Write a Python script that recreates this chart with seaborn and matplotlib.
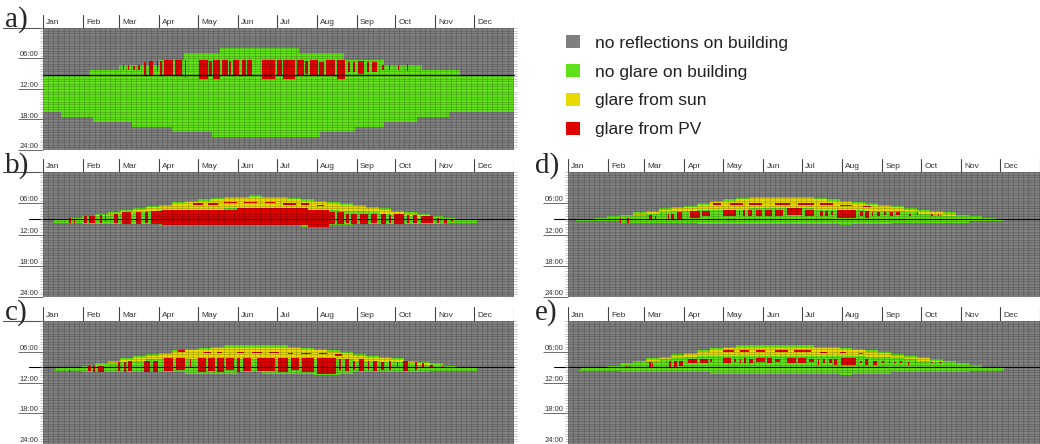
import numpy as np
import pandas as pd
import matplotlib
matplotlib.use("Agg")
import matplotlib.pyplot as plt
from matplotlib.colors import ListedColormap
from matplotlib.patches import Patch
import seaborn as sns

nan = np.nan

# ---------------- data ----------------
months = ["Jan", "Feb", "Mar", "Apr", "May", "Jun", "Jul", "Aug", "Sep", "Oct", "Nov", "Dec"]
month_start_day = [0, 31, 59, 90, 120, 151, 181, 212, 243, 273, 304, 334]
hour_labels = ["06:00", "12:00", "18:00", "24:00"]
legend_labels = ["no reflections on building", "no glare on building", "glare from sun", "glare from PV"]
state_colors = ["#7f7f7f", "#5fe01a", "#e6da00", "#e00000"]
ref_line_hour = {"a": 9.25, "b": 9.0, "c": 9.0, "d": 9.0, "e": 9.0}

# panel a: stepwise reflection period (start / end of sun on building)
a_top_days = [0, 36, 59, 90, 109, 137, 198, 233, 264, 294, 323]
a_top_hours = [9.25, 8.25, 7.25, 6.25, 5.0, 4.0, 5.0, 6.25, 7.25, 8.25, 9.25]
a_bot_days = [0, 14, 39, 69, 100, 131, 215, 242, 264, 290, 315]
a_bot_hours = [16.5, 17.5, 18.5, 19.5, 20.5, 21.5, 20.5, 19.5, 18.5, 17.5, 16.5]
a_red_bars = [(62, 63, 7.25, 8.25), (66, 67, 7.25, 8.25), (70, 71, 7.5, 8.25), (74, 75, 7.25, 8.25),
              (78, 80, 6.75, 9.25), (82, 85, 6.5, 9.25), (88, 89, 6.5, 8.5), (91, 92, 6.5, 9.25),
              (94, 101, 6.25, 9.25), (102, 108, 6.25, 9.25), (110, 111, 6.25, 9.75),
              (121, 128, 6.25, 10.0), (129, 131, 6.5, 9.5), (132, 137, 6.25, 10.0),
              (139, 143, 6.25, 9.25), (144, 146, 6.5, 9.5), (147, 152, 6.25, 9.25), (154, 157, 6.25, 9.25),
              (158, 162, 6.25, 9.5), (170, 180, 6.25, 10.0), (181, 185, 6.25, 9.5), (186, 195, 6.25, 10.0),
              (197, 202, 6.25, 9.25), (203, 205, 6.5, 9.0), (207, 213, 6.25, 9.5), (214, 218, 6.75, 9.25),
              (219, 226, 6.25, 9.5), (228, 234, 6.25, 10.0), (236, 238, 6.75, 8.75), (240, 242, 6.75, 8.75),
              (244, 249, 6.5, 9.0), (251, 253, 6.75, 8.75), (255, 259, 6.75, 8.75),
              (263, 264, 7.25, 8.25), (268, 269, 7.25, 8.25), (275, 276, 7.25, 8.25), (282, 283, 7.0, 8.5)]

# panels b-e: 10-day bins (bin k covers days 10k..10k+9)
b_span = (8, 336)
b_top = [9.25, 9.0, 8.75, 8.5, 8.0, 7.75, 7.25, 7.0, 6.5, 6.25, 5.75, 5.5, 5.25, 5.0, 4.75, 4.75, 4.5, 4.75, 4.75,
         5.0, 5.25, 5.5, 5.75, 6.0, 6.25, 6.75, 7.0, 7.5, 7.75, 8.0, 8.5, 8.75, 9.0, 9.25, nan, nan, nan]
b_bot = [9.75, 9.75, 9.75, 10.0, 10.0, 10.0, 10.0, 10.0, 10.0, 10.25, 10.25, 10.25, 10.25, 10.25, 10.25, 10.25,
         10.25, 10.25, 10.25, 10.25, 10.5, 10.5, 10.25, 10.25, 10.0, 10.0, 10.0, 10.0, 10.0, 10.0, 10.0, 9.75,
         9.75, 9.75, nan, nan, nan]
b_yel = [nan, nan, nan, nan, 8.5, 8.25, 8.0, 7.75, 7.5, 7.25, 7.25, 7.25, 7.25, 7.25, 7.0, 7.0, 7.0, 7.0, 7.0,
         7.0, 7.25, 7.25, 7.25, 7.5, 7.5, 7.75, 8.0, 8.25, 8.5, 8.75, nan, nan, nan, nan, nan, nan, nan]
b_red_bars = [(20, 22, 8.75, 9.75), (24, 25, 9.0, 9.75), (32, 34, 8.5, 9.75), (36, 40, 8.5, 9.75),
              (44, 46, 8.25, 9.75), (48, 49, 8.25, 9.5), (55, 58, 8.0, 9.75), (61, 68, 7.75, 10.0),
              (72, 76, 7.75, 10.0), (79, 81, 7.75, 9.75), (84, 92, 7.5, 10.0),
              (92, 150, 7.25, 10.25), (150, 205, 7.0, 10.25), (205, 222, 7.25, 10.5),
              (222, 226, 7.75, 10.0), (228, 233, 7.75, 10.0), (235, 237, 8.0, 9.75), (239, 243, 8.0, 10.0),
              (246, 252, 8.0, 10.0), (254, 259, 8.0, 9.75), (262, 266, 8.0, 10.0), (268, 270, 8.25, 9.75),
              (272, 280, 8.0, 10.0), (282, 284, 8.25, 9.75), (287, 290, 8.25, 9.75), (293, 302, 8.5, 9.75),
              (305, 307, 8.75, 9.75), (311, 313, 9.0, 9.75), (316, 318, 9.0, 9.5)]
b_red_dashes = [(116, 124, 6.0, 6.25), (128, 136, 6.0, 6.25), (140, 150, 5.75, 6.0), (156, 166, 5.75, 6.0),
                (172, 180, 5.75, 6.0), (186, 196, 6.0, 6.25), (200, 206, 6.0, 6.25), (212, 218, 6.25, 6.5)]

c_span = (8, 336)
c_top = [9.5, 9.25, 9.0, 8.75, 8.25, 7.75, 7.25, 6.75, 6.5, 6.25, 5.75, 5.5, 5.25, 5.0, 4.75, 4.75, 4.75, 4.75,
         4.75, 5.0, 5.25, 5.5, 5.75, 6.0, 6.5, 6.75, 7.0, 7.25, 7.75, 8.0, 8.25, 8.75, 9.0, 9.25, nan, nan, nan]
c_bot = [9.75, 9.75, 9.75, 10.0, 10.0, 10.0, 10.0, 10.0, 10.0, 10.0, 10.0, 10.25, 10.25, 10.25, 10.25, 10.0,
         10.0, 10.25, 10.25, 10.25, 10.25, 10.5, 10.5, 10.25, 10.0, 10.0, 10.0, 10.0, 10.0, 10.0, 9.75, 9.75,
         9.75, 9.75, nan, nan, nan]
c_yel = [nan, nan, nan, nan, 8.75, 8.25, 8.0, 7.75, 7.5, 7.5, 7.5, 7.5, 7.5, 7.5, 7.5, 7.5, 7.5, 7.5, 7.5, 7.5,
         7.5, 7.5, 7.5, 7.5, 7.75, 7.75, 8.0, 8.0, 8.25, 8.5, 8.75, nan, nan, nan, nan, nan, nan]
c_red_bars = [(20, 21, 9.5, 10.0), (35, 37, 8.75, 9.75), (39, 40, 8.75, 10.0), (43, 47, 8.75, 10.0),
              (58, 60, 8.0, 9.75), (63, 64, 8.0, 10.0), (66, 69, 7.75, 9.75), (78, 83, 7.75, 10.0),
              (85, 89, 7.75, 10.0), (94, 101, 7.25, 9.75), (103, 110, 7.25, 9.5), (114, 115, 7.5, 9.0),
              (120, 126, 7.25, 10.0), (128, 133, 7.25, 9.75), (135, 140, 7.25, 10.0), (142, 148, 7.25, 9.5),
              (150, 153, 7.25, 10.0), (155, 161, 7.25, 9.75), (166, 180, 7.25, 9.75), (182, 190, 7.25, 10.0),
              (192, 198, 7.25, 9.5), (201, 210, 7.25, 10.0), (212, 227, 7.25, 10.25), (229, 231, 7.5, 9.5),
              (234, 237, 7.5, 9.75), (240, 242, 7.75, 9.5), (245, 249, 7.5, 9.75), (252, 253, 7.75, 9.5),
              (256, 259, 7.75, 9.75), (262, 264, 8.0, 9.5), (268, 270, 7.75, 9.5), (274, 275, 8.0, 9.25),
              (279, 283, 7.75, 9.75), (288, 290, 8.0, 9.5), (294, 295, 8.25, 9.25), (300, 302, 8.5, 9.25),
              (309, 310, 8.75, 9.25)]
c_red_dashes = [(105, 110, 5.75, 6.0), (125, 130, 6.0, 6.25), (135, 139, 6.0, 6.25), (150, 156, 6.0, 6.25),
                (162, 170, 6.0, 6.25), (175, 183, 6.0, 6.25), (190, 194, 6.25, 6.5), (200, 208, 6.25, 6.5),
                (214, 220, 6.25, 6.5), (226, 232, 6.5, 6.75)]

d_span = (6, 337)
d_top = [9.25, 9.0, 8.75, 8.5, 8.25, 7.75, 7.5, 7.0, 6.75, 6.5, 6.0, 5.5, 5.25, 5.0, 4.75, 4.75, 4.75, 4.75,
         4.75, 5.0, 5.25, 5.5, 5.75, 6.0, 6.25, 6.5, 7.0, 7.25, 7.5, 7.75, 8.25, 8.5, 8.75, 9.0, nan, nan, nan]
d_bot = [9.5, 9.5, 9.5, 9.5, 9.75, 9.75, 9.75, 9.75, 9.75, 9.75, 10.0, 10.0, 10.0, 10.0, 10.0, 10.0, 10.0, 10.0,
         10.0, 10.0, 10.0, 10.25, 10.0, 10.0, 10.0, 9.75, 9.75, 9.75, 9.75, 9.75, 9.75, 9.5, 9.5, 9.5,
         nan, nan, nan]
d_yel = [nan, nan, nan, nan, nan, 8.25, 8.0, 7.75, 7.5, 7.5, 7.25, 7.25, 7.25, 7.25, 7.0, 7.0, 7.0, 7.0, 7.0,
         7.25, 7.25, 7.25, 7.25, 7.5, 7.5, 7.5, 7.75, 8.0, 8.25, 8.5, nan, nan, nan, nan, nan, nan, nan]
d_red_bars = [(40, 41, 8.75, 9.75), (46, 47, 8.75, 9.75), (63, 65, 8.25, 9.25), (67, 68, 8.5, 9.0),
              (77, 78, 8.0, 9.25), (80, 82, 8.0, 9.25), (84, 88, 7.75, 9.25), (94, 102, 7.5, 8.75),
              (104, 110, 7.5, 8.5), (120, 130, 7.25, 8.5), (132, 133, 7.5, 8.25), (135, 137, 7.25, 8.5),
              (139, 142, 7.25, 8.5), (145, 150, 7.25, 8.5), (152, 158, 7.25, 8.5), (160, 166, 7.25, 8.5),
              (169, 181, 7.0, 8.25), (183, 190, 7.25, 8.5), (195, 197, 7.5, 8.5), (199, 201, 7.5, 8.5),
              (203, 205, 7.5, 8.25), (208, 223, 7.25, 8.75), (226, 228, 7.5, 8.5), (230, 233, 7.5, 8.75),
              (235, 236, 7.75, 8.5), (239, 241, 7.75, 8.5), (244, 246, 7.75, 8.25), (249, 251, 7.75, 8.5),
              (254, 257, 7.75, 8.25), (264, 265, 8.0, 8.5), (270, 271, 7.75, 8.25), (281, 282, 8.0, 8.5),
              (286, 287, 8.0, 8.5)]
d_red_dashes = [(112, 118, 6.0, 6.25), (125, 135, 6.0, 6.25), (140, 150, 6.0, 6.25), (160, 172, 6.0, 6.25),
                (178, 190, 6.0, 6.25), (195, 205, 6.0, 6.25), (210, 220, 6.25, 6.5), (228, 234, 6.5, 6.75)]

e_span = (8, 337)
e_top = [9.5, 9.25, 9.0, 8.75, 8.25, 7.75, 7.25, 7.0, 6.5, 6.25, 5.75, 5.25, 5.0, 4.75, 4.75, 4.75, 4.75, 4.75,
         4.75, 5.0, 5.0, 5.25, 5.5, 5.75, 6.0, 6.5, 6.75, 7.0, 7.5, 7.75, 8.25, 8.5, 9.0, 9.25, nan, nan, nan]
e_bot = [9.75, 9.75, 9.75, 9.75, 10.0, 10.0, 10.0, 10.0, 10.0, 10.0, 10.0, 10.25, 10.25, 10.25, 10.25, 10.25,
         10.25, 10.25, 10.25, 10.25, 10.25, 10.5, 10.25, 10.25, 10.25, 10.0, 10.0, 10.0, 10.0, 10.0, 10.0, 9.75,
         9.75, 9.75, nan, nan, nan]
e_yel = [nan, nan, nan, nan, nan, 8.0, 7.75, 7.5, 7.25, 7.0, 6.75, 6.75, 6.75, 6.75, 6.75, 6.75, 6.75, 6.75,
         6.75, 6.75, 6.75, 6.75, 6.75, 7.0, 7.0, 7.25, 7.5, 7.75, 8.0, nan, nan, nan, nan, nan, nan, nan, nan]
e_red_bars = [(45, 46, 8.75, 9.25), (47, 48, 8.75, 9.0), (63, 64, 8.0, 9.25), (65, 66, 8.25, 9.0),
              (78, 80, 7.75, 9.0), (82, 84, 7.75, 9.0), (86, 89, 7.75, 8.75), (93, 100, 7.5, 8.25),
              (102, 108, 7.5, 8.25), (110, 111, 7.5, 8.0), (120, 126, 7.25, 8.25), (128, 130, 7.5, 8.0),
              (133, 134, 7.5, 8.25), (136, 138, 7.25, 8.25), (140, 143, 7.5, 8.25), (145, 152, 7.25, 8.0),
              (154, 158, 7.25, 8.25), (160, 164, 7.5, 8.0), (169, 176, 7.25, 8.25), (178, 184, 7.25, 8.25),
              (186, 190, 7.5, 8.0), (193, 194, 7.5, 8.5), (197, 199, 7.5, 8.25), (202, 204, 7.5, 8.25),
              (206, 208, 7.5, 8.5), (211, 223, 7.25, 8.5), (226, 227, 7.75, 8.25), (230, 232, 7.5, 8.5),
              (236, 239, 7.75, 8.5), (243, 244, 7.75, 8.25), (248, 249, 7.75, 8.25), (252, 254, 8.0, 8.25),
              (257, 258, 7.75, 8.25), (263, 264, 8.0, 8.5), (268, 269, 8.0, 8.25), (281, 282, 8.0, 8.25),
              (287, 289, 8.0, 8.25)]
e_red_dashes = [(120, 128, 5.75, 6.0), (133, 140, 5.75, 6.0), (145, 152, 5.75, 6.0), (160, 170, 5.75, 6.0),
                (175, 188, 5.75, 6.0), (195, 200, 6.0, 6.25), (210, 215, 6.0, 6.25), (225, 228, 6.25, 6.5)]

# ---------------- grid construction ----------------
N_DAYS, ROWS_PER_HOUR = 365, 4
N_ROWS = 24 * ROWS_PER_HOUR


def row(h):
    return int(round(h * ROWS_PER_HOUR))


def paint(M, segs, code):
    for d0, d1, h0, h1 in segs:
        M[row(h0):row(h1), d0:d1] = code


def grid_panel_a():
    M = np.zeros((N_ROWS, N_DAYS))
    for d in range(N_DAYS):
        t = a_top_hours[np.searchsorted(a_top_days, d, side="right") - 1]
        b = a_bot_hours[np.searchsorted(a_bot_days, d, side="right") - 1]
        M[row(t):row(b), d] = 1
    paint(M, a_red_bars, 3)
    return M


def grid_panel(span, top, bot, yel, bars, dashes):
    M = np.zeros((N_ROWS, N_DAYS))
    for d in range(span[0], span[1]):
        k = d // 10
        t, b, y = top[k], bot[k], yel[k]
        if np.isnan(t):
            continue
        M[row(t):row(b), d] = 1
        if not np.isnan(y) and y > t + 0.25:
            M[row(t + 0.25):row(y), d] = 2
    paint(M, bars, 3)
    paint(M, dashes, 3)
    return M


panels = {
    "a": grid_panel_a(),
    "b": grid_panel(b_span, b_top, b_bot, b_yel, b_red_bars, b_red_dashes),
    "c": grid_panel(c_span, c_top, c_bot, c_yel, c_red_bars, c_red_dashes),
    "d": grid_panel(d_span, d_top, d_bot, d_yel, d_red_bars, d_red_dashes),
    "e": grid_panel(e_span, e_top, e_bot, e_yel, e_red_bars, e_red_dashes),
}

# ---------------- layout ----------------
W, H = 1040, 444
def fr(x0, y0, x1, y1):
    return [x0 / W, 1 - y1 / H, (x1 - x0) / W, (y1 - y0) / H]

layout = {  # plot rect, header rect, letter position (px)
    "a": (fr(43, 28, 514, 150), fr(43, 15, 514, 28), (5, 27)),
    "b": (fr(43, 172, 514, 297), fr(43, 159, 514, 172), (5, 173)),
    "c": (fr(43, 321, 514, 444), fr(43, 307, 514, 321), (5, 320)),
    "d": (fr(568, 172, 1040, 297), fr(568, 159, 1040, 172), (535, 173)),
    "e": (fr(568, 321, 1040, 444), fr(568, 307, 1040, 321), (535, 320)),
}

sns.set_theme(style="white")
plt.rcParams["font.family"] = ["Liberation Sans", "DejaVu Sans"]

fig = plt.figure(figsize=(W / 100, H / 100), dpi=100)
cmap = ListedColormap(state_colors)

for key, M in panels.items():
    rect, hrect, (lx, ly) = layout[key]
    ax = fig.add_axes(rect)
    sns.heatmap(pd.DataFrame(M), ax=ax, cmap=cmap, vmin=-0.5, vmax=3.5, cbar=False,
                xticklabels=False, yticklabels=False)
    ax.set_xlim(0, N_DAYS)
    ax.set_ylim(N_ROWS, 0)
    ax.set_axisbelow(False)
    # fine mesh
    ax.set_xticks([])
    ax.set_xticks(np.arange(0, N_DAYS, 4), minor=True)
    ax.set_yticks([row(6), row(12), row(18), row(24)])
    ax.set_yticklabels(hour_labels)
    ax.set_yticks(np.arange(0, N_ROWS + 1, 2), minor=True)
    ax.grid(which="both", color="black", alpha=0.25, linewidth=0.45)
    ax.tick_params(axis="x", which="both", length=0, bottom=False, top=False)
    ax.tick_params(axis="y", which="major", left=True, length=18, width=0.6, color="#555555",
                   pad=-15, labelsize=5.5, labelcolor="#333333")
    ax.tick_params(axis="y", which="minor", left=True, right=True, length=2.5, width=0.4,
                   color="#999999")
    for lbl in ax.get_yticklabels():
        lbl.set_verticalalignment("bottom")
    ext = 0.0 if key == "a" else -0.03
    ax.axhline(row(ref_line_hour[key]), xmin=ext, xmax=1, color="black", linewidth=0.8, clip_on=False)
    if key in ("a", "b", "c"):
        ax.axhline(0, xmin=-0.085, xmax=0, color="#555555", linewidth=0.8, clip_on=False)

    # month header
    axh = fig.add_axes(hrect)
    axh.set_xlim(0, N_DAYS)
    axh.set_ylim(0, 1)
    axh.set_xticks(month_start_day + [N_DAYS])
    axh.set_yticks([])
    axh.tick_params(length=0, labelbottom=False)
    axh.grid(axis="x", color="#444444", linewidth=0.8, alpha=1)
    for s in axh.spines.values():
        s.set_visible(False)
    for name, s in zip(months, month_start_day):
        axh.text(s + 2.5, 0.42, name, ha="left", va="center", fontsize=6, color="#333333")

    fig.text(lx / W, 1 - ly / H, f"{key})", fontsize=21, va="baseline", ha="left",
             family=["Liberation Serif", "DejaVu Serif"])

handles = [Patch(facecolor=c, edgecolor="none") for c in state_colors]
fig.legend(handles, legend_labels, loc="upper left", bbox_to_anchor=(566 / W, 1 - 35 / H),
           frameon=False, fontsize=12.5, handlelength=0.8, handleheight=0.8, handletextpad=0.85,
           labelspacing=0.76, borderpad=0, borderaxespad=0, labelcolor="#222222")

fig.savefig("out.png", dpi=100)
